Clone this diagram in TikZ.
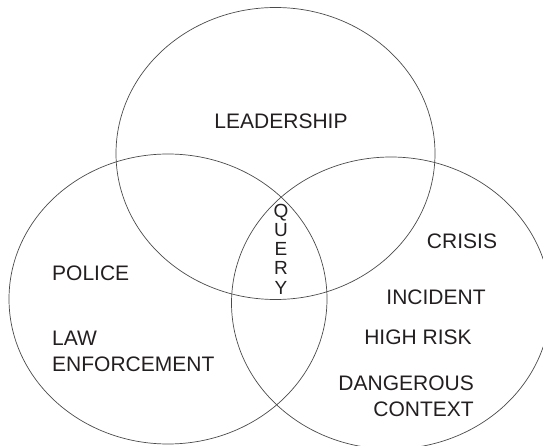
\documentclass[tikz,border=0pt]{standalone}
\usepackage{fontspec}
\setmainfont{Liberation Sans}
\usepackage{tikz}
\usetikzlibrary{shapes.geometric}
\definecolor{ringgray}{HTML}{4A4A4A}
\definecolor{inkgray}{HTML}{231F20}

\begin{document}
\begin{tikzpicture}[
    x=1pt, y=-1pt,
    ring/.style={draw=ringgray, line width=0.7pt, ellipse, inner sep=0pt,
                 minimum width=319pt, minimum height=292pt},
    lbl/.style={text=inkgray, inner sep=0pt, font=\fontsize{21}{26}\selectfont},
]
    \clip (0,0) rectangle (543,446);
    \useasboundingbox (0,0) rectangle (543,446);

    % the three sets
    \node[ring] (lead) at (275.5,153.5) {};
    \node[ring, minimum width=318pt, minimum height=290pt] (police) at (168,299) {};
    \node[ring] (crisis) at (391,303) {};

    \node[lbl] (leadtxt) at (281,121.5) {LEADERSHIP};

    \node[lbl, anchor=west] (policetxt) at (52,273) {POLICE};
    \node[lbl, anchor=west, align=left] (lawtxt) at (52,351.5) {LAW\\ENFORCEMENT};

    \node[lbl] (crisistxt) at (462,241) {CRISIS};
    \node[lbl] (incidenttxt) at (436,297) {INCIDENT};
    \node[lbl] (risktxt) at (418,337.5) {HIGH RISK};
    \node[lbl, anchor=east, align=right] (dangertxt) at (474,396) {DANGEROUS\\CONTEXT};

    % centre of the three sets
    \node[lbl, align=center, font=\fontsize{19}{19.25}\selectfont] (query) at (281,249)
        {Q\\U\\E\\R\\Y};
\end{tikzpicture}
\end{document}
